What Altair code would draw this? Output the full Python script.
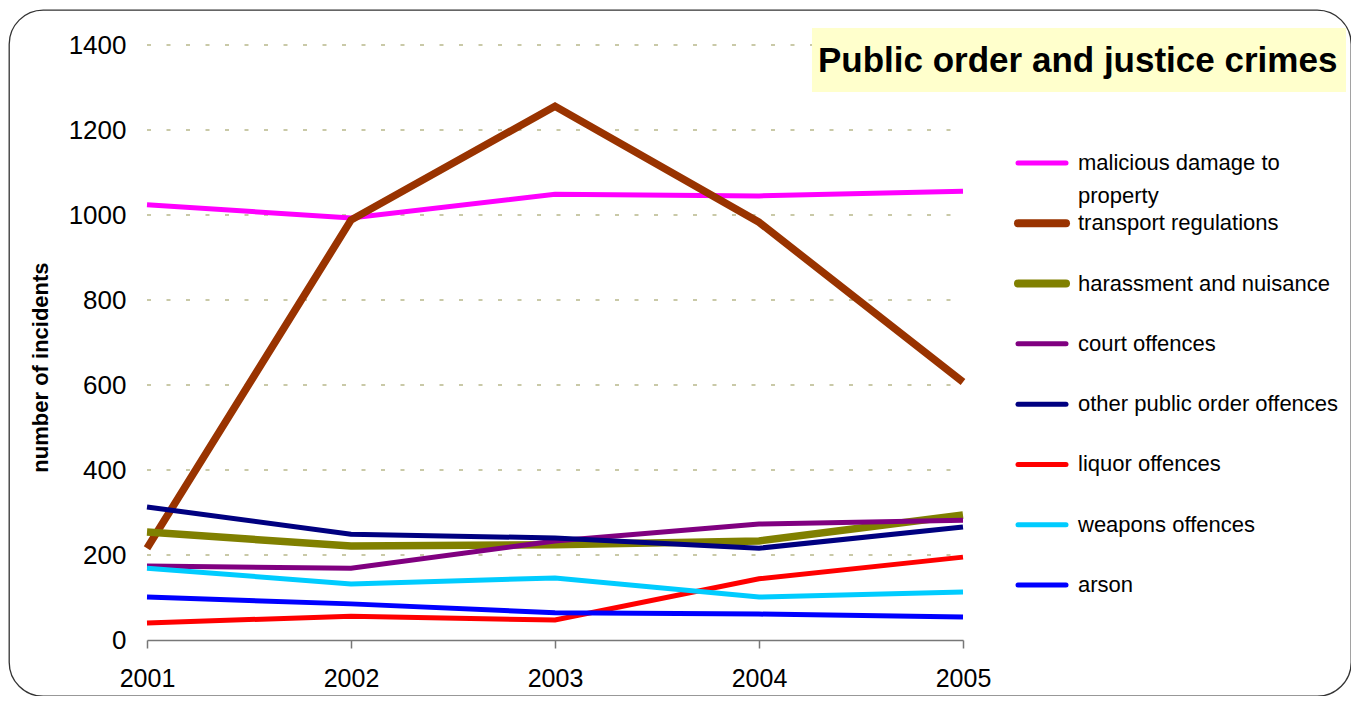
import altair as alt
import pandas as pd

years = [2001, 2002, 2003, 2004, 2005]
series = [
    "malicious damage to property",
    "transport regulations",
    "harassment and nuisance",
    "court offences",
    "other public order offences",
    "liquor offences",
    "weapons offences",
    "arson",
]
legend_labels = [
    "malicious damage to\nproperty",
    "transport regulations",
    "harassment and nuisance",
    "court offences",
    "other public order offences",
    "liquor offences",
    "weapons offences",
    "arson",
]
malicious = [1024, 993, 1049, 1045, 1056]
transport = [216, 988, 1256, 983, 607]
harassment = [254, 221, 224, 233, 294]
court = [174, 169, 233, 273, 282]
other_public = [313, 249, 240, 216, 266]
liquor = [40, 56, 47, 144, 195]
weapons = [169, 132, 146, 101, 113]
arson = [101, 85, 64, 61, 54]
colors = ["#FF00FF", "#993300", "#808000", "#800080", "#000080", "#FF0000", "#00CCFF", "#0000FF"]
line_widths = [5, 7.5, 7.5, 5, 5, 5, 5, 5]
legend_widths = [5, 8, 8, 5, 5, 5, 5, 5]
y_ticks = [0, 200, 400, 600, 800, 1000, 1200, 1400]
grid_values = [200, 400, 600, 800, 1000, 1200, 1400]
title_text = "Public order and justice crimes"
y_title = "number of incidents"

all_values = [malicious, transport, harassment, court, other_public, liquor, weapons, arson]
rows = []
for name, vals, w in zip(series, all_values, line_widths):
    for yr, v in zip(years, vals):
        rows.append({"series": name, "year": yr, "value": v, "width": w})
df = pd.DataFrame(rows)

grid_df = pd.DataFrame({"v": grid_values, "x1": years[0], "x2": years[-1]})
legend_df = pd.DataFrame({"series": series, "label": legend_labels, "width": legend_widths})
title_df = pd.DataFrame({"t": [title_text]})

W, H = 1342, 686
xscale = alt.Scale(domain=[years[0], years[-1]], range=[138, 954], nice=False, zero=False)
yscale = alt.Scale(domain=[0, 1400], range=[630, 35], nice=False)
color_scale = alt.Scale(domain=series, range=colors)

xaxis = alt.Axis(
    values=years, format="d", title=None, grid=False, offset=-56,
    domainColor="#777777", domainWidth=1.5, tickColor="#777777", tickWidth=1.5,
    tickSize=8, labelPadding=18, labelFontSize=25, labelFont="Liberation Sans",
    labelColor="black", labelFlush=False,
)
yaxis = alt.Axis(
    values=y_ticks, format="d", title=y_title, grid=False, domain=False, ticks=False, tickSize=0,
    offset=-117, labelPadding=0, labelFontSize=26, labelFont="Liberation Sans",
    labelColor="black", titleFont="Liberation Sans", titleFontSize=22,
    titleFontWeight="bold", titleColor="black", titleX=-86, titleY=357,
    titleAngle=270, titleAlign="center", titleBaseline="middle",
)

grid = alt.Chart(grid_df).mark_rule(color="#B8B88A", strokeWidth=1.5, strokeDash=[4, 15.5]).encode(
    y=alt.Y("v:Q", scale=yscale, axis=yaxis, title=y_title),
    x=alt.X("x1:Q", scale=xscale, axis=xaxis, title=None),
    x2="x2:Q",
)

lines = alt.Chart(df).mark_line(strokeJoin="miter", strokeCap="butt").encode(
    x=alt.X("year:Q", scale=xscale, axis=xaxis, title=None),
    y=alt.Y("value:Q", scale=yscale, axis=yaxis, title=y_title),
    color=alt.Color("series:N", scale=color_scale, legend=None),
    strokeWidth=alt.StrokeWidth("width:Q", scale=None),
    detail="series:N",
)

plot = alt.layer(grid, lines)

title_box = alt.Chart(title_df).mark_rect(color="#FFFFCC").encode(
    x=alt.value(803), x2=alt.value(1337), y=alt.value(18), y2=alt.value(82)
)
title_txt = alt.Chart(title_df).mark_text(
    align="left", baseline="middle", fontSize=35, fontWeight="bold", font="Liberation Sans", color="black"
).encode(x=alt.value(809), y=alt.value(51), text="t:N")

leg_y = alt.Scale(type="point", domain=series, range=[153, 575], padding=0)
leg_rule = alt.Chart(legend_df).mark_rule(strokeCap="round").encode(
    y=alt.Y("series:N", scale=leg_y, axis=None),
    x=alt.value(1009),
    x2=alt.value(1057),
    color=alt.Color("series:N", scale=color_scale, legend=None),
    strokeWidth=alt.StrokeWidth("width:Q", scale=None),
)
leg_text = alt.Chart(legend_df).mark_text(
    align="left", baseline="alphabetic", dy=7, fontSize=22, font="Liberation Sans",
    color="black", lineBreak="\n", lineHeight=33,
).encode(
    y=alt.Y("series:N", scale=leg_y, axis=None),
    x=alt.value(1069),
    text="label:N",
)

chart = alt.layer(plot, title_box, title_txt, leg_rule, leg_text).resolve_scale(
    y="independent"
).properties(
    width=W, height=H, padding={"left": 1, "top": 2, "right": 0, "bottom": 0}
).configure_view(
    stroke="#333333", strokeWidth=1.3, cornerRadius=34
)

chart.save("out.html", embed_options={"renderer": "svg", "actions": False})
